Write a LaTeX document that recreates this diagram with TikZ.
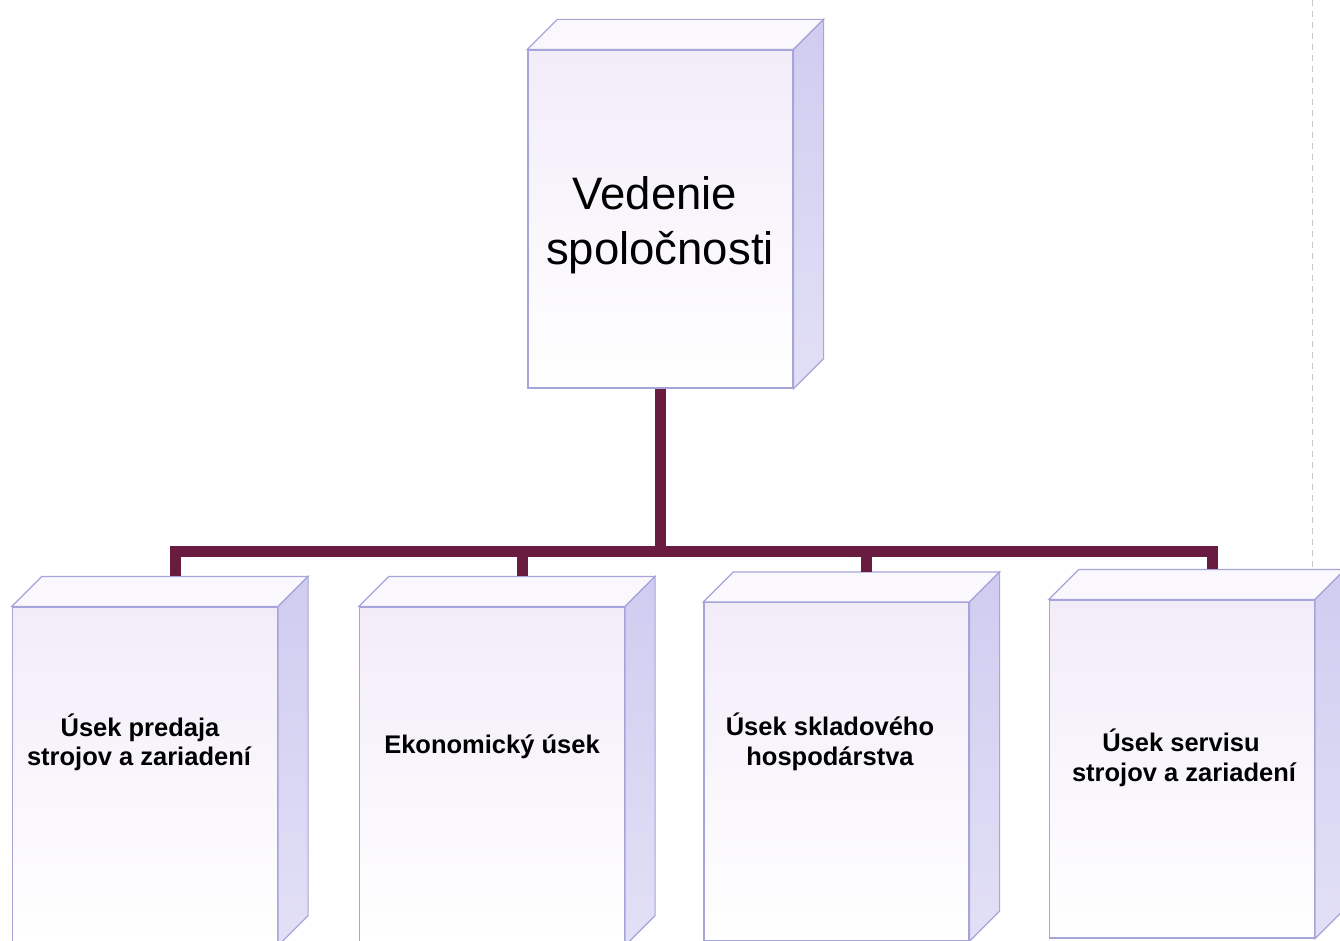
\documentclass[tikz,border=0pt]{standalone}
\usepackage{fontspec}
\setmainfont{Liberation Sans}
\usetikzlibrary{calc}
\definecolor{edgec}{RGB}{165,165,218}
\definecolor{sidec}{RGB}{208,204,240}
\definecolor{sidel}{RGB}{226,224,246}
\definecolor{topc}{RGB}{250,247,253}
\definecolor{frontA}{RGB}{242,236,249}
\definecolor{frontB}{RGB}{247,229,245}
\definecolor{connc}{RGB}{106,28,64}
\definecolor{scanline}{RGB}{200,200,200}
\tikzset{
  frontface/.style={rectangle, draw=edgec, line width=1.2pt, inner sep=0pt,
    minimum width=265pt, minimum height=338pt,
    top color=frontA, middle color=frontB, bottom color=white},
  topface/.style={draw=edgec, line width=1.2pt, fill=topc},
  sideface/.style={draw=edgec, line width=1.2pt, top color=sidec, bottom color=sidel},
  connector/.style={draw=connc, line width=11pt},
  bigtext/.style={font=\fontsize{45.5}{55}\selectfont, anchor=base, inner sep=0pt},
  smalltext/.style={font=\fontsize{25.5}{29}\selectfont\bfseries, anchor=base, inner sep=0pt}
}
\begin{document}
\begin{tikzpicture}[x=1pt,y=-1pt]
\useasboundingbox (0,0) rectangle (1340,941);
\clip (0,0) rectangle (1340,941);
\fill[white] (0,0) rectangle (1340,941);
% faint scan line at right
\draw[scanline, line width=0.8pt, dash pattern=on 6pt off 5pt] (1312,0) -- (1312,572);
% boxes (front faces)
\node[frontface] (top) at (660.5,219) {};
\node[frontface] (b1) at (145,776) {};
\node[frontface] (b2) at (492,776) {};
\node[frontface] (b3) at (836.5,771.5) {};
\node[frontface] (b4) at (1182,769) {};
% top and side faces
\foreach \n in {top,b1,b2,b3,b4}{
  \path[topface] (\n.north west) -- ++(30,-30) -- ($(\n.north east)+(30,-30)$) -- (\n.north east) -- cycle;
  \path[sideface] (\n.north east) -- ($(\n.north east)+(30,-30)$) -- ($(\n.south east)+(30,-30)$) -- (\n.south east) -- cycle;
}
% connectors
\coordinate (bus) at (660.5,551);
\draw[connector] (top.south) -- (bus);
\foreach \n in {b1,b2,b3,b4}{
  \draw[connector] (bus) -| ($(\n.north)+(30,-30)$);
}
% texts
\node[bigtext] (t0a) at (655,210) {Vedenie};
\node[bigtext] (t0b) at (660,265) {spoločnosti};
\node[smalltext] (t1a) at (140,736) {Úsek predaja};
\node[smalltext] (t1b) at (139,765) {strojov a zariadení};
\node[smalltext] (t2a) at (492,753) {Ekonomický úsek};
\node[smalltext] (t3a) at (830,735) {Úsek skladového};
\node[smalltext] (t3b) at (830,765) {hospodárstva};
\node[smalltext] (t4a) at (1181,751) {Úsek servisu};
\node[smalltext] (t4b) at (1184,781) {strojov a zariadení};
\end{tikzpicture}
\end{document}
